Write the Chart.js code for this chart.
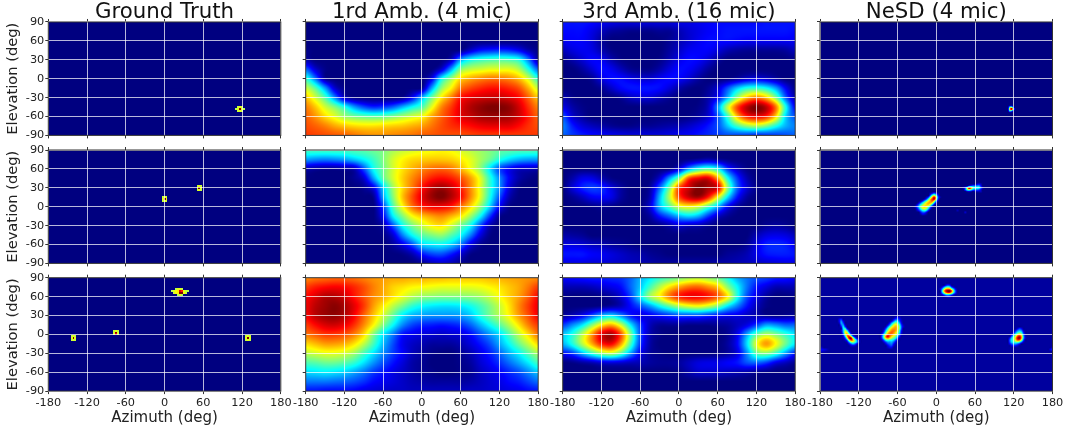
<!DOCTYPE html>
<html>
<head>
<meta charset="utf-8">
<script src="https://cdn.jsdelivr.net/npm/chart.js@4/dist/chart.umd.min.js"></script>
<style>
  html, body { margin: 0; padding: 0; background: #fff; overflow: hidden; }
  #page { position: relative; width: 1067px; height: 430px; overflow: hidden; }
  #page div { position: absolute; }
</style>
</head>
<body>
<div id="page"></div>
<script>
// axis ticks
var azimuthTicks = [-180, -120, -60, 0, 60, 120, 180];
var elevationTicks = [-90, -60, -30, 0, 30, 60, 90];
var columnTitles = ['Ground Truth', '1rd Amb. (4 mic)', '3rd Amb. (16 mic)', 'NeSD (4 mic)'];

// wide maps: one row per elevation 90, 75 ... -90, one value per azimuth -180, -165 ... 180
var amb1Row1 = [
  [0,0,0,0,0,0,0,0,0,0,0,0,0,0,0,0,0,0,0,0,0,0,0,0,0],
  [0,0,0,0,0,0,0,0,0,0,0,0,0,0,0,0,0,0,0,0,0,0,0,0,0],
  [0,0,0,0,0,0,0,0,0,0,0,0,0,0,0,0,0,0,0,0,0,0,0,0,0],
  [1,0,0,0,0,0,0,0,0,0,0,0,0,0,0,0,1,8,14,16,17,16,12,5,1],
  [4,0,0,0,0,0,0,0,0,0,0,0,0,0,0,6,28,38,42,44,45,44,40,24,4],
  [22,8,1,0,0,0,0,0,0,0,0,0,0,0,8,28,50,56,58,60,60,60,55,40,22],
  [42,24,3,0,0,0,0,0,0,0,0,0,0,10,37,52,66,71,74,76,76,74,69,58,42],
  [57,46,28,8,1,0,0,0,0,0,0,0,2,28,51,63,76,81,84,86,86,84,80,70,57],
  [68,58,45,26,7,1,0,0,0,0,2,12,30,48,64,75,86,90,92,93,93,91,87,78,68],
  [75,68,58,50,40,28,20,16,18,22,30,38,45,60,74,82,90,95,98,100,100,98,92,83,75],
  [78,73,66,60,53,49,47,46,47,50,54,58,62,71,78,84,90,93,96,97,97,96,92,85,78],
  [80,78,75,71,68,66,65,65,66,67,68,70,72,76,80,83,85,87,89,90,90,90,87,83,80],
  [82,81,80,79,78,76,74,73,73,74,75,76,78,79,80,80,80,81,82,82,82,82,82,82,82]
];
var amb1Row2 = [
  [44,44,44,44,44,45,46,48,50,54,57,59,61,62,63,62,59,56,53,50,47,46,45,45,44],
  [28,26,25,26,28,32,37,43,50,58,63,66,67,68,68,67,64,60,54,48,40,34,30,28,28],
  [5,3,2,2,3,5,20,38,48,58,65,70,74,77,78,76,70,62,52,36,20,12,7,6,5],
  [0,0,0,0,0,2,8,28,46,58,67,74,80,85,87,85,80,72,60,42,26,12,4,1,0],
  [0,0,0,0,0,0,2,10,33,53,66,76,86,94,97,93,85,74,60,42,26,9,1,0,0],
  [0,0,0,0,0,0,0,2,28,50,68,80,90,97,100,95,87,74,60,40,20,5,0,0,0],
  [0,0,0,0,0,0,0,0,18,44,62,76,84,88,88,85,76,66,52,33,12,1,0,0,0],
  [0,0,0,0,0,0,0,0,12,36,50,62,68,72,74,70,64,53,38,18,2,0,0,0,0],
  [0,0,0,0,0,0,0,0,4,20,38,49,57,63,65,58,48,38,20,5,0,0,0,0,0],
  [0,0,0,0,0,0,0,0,1,8,25,38,46,50,52,46,38,25,10,1,0,0,0,0,0],
  [0,0,0,0,0,0,0,0,0,3,10,20,33,36,37,33,24,10,2,0,0,0,0,0,0],
  [0,0,0,0,0,0,0,0,0,0,1,5,14,19,20,15,8,1,0,0,0,0,0,0,0],
  [0,0,0,0,0,0,0,0,0,0,0,0,2,6,8,6,2,0,0,0,0,0,0,0,0]
];
var amb1Row3 = [
  [74,76,77,78,78,77,75,73,72,71,71,70,70,69,69,68,68,68,68,69,70,71,72,73,74],
  [82,85,87,88,87,84,80,75,71,67,65,63,62,61,60,60,60,60,61,63,65,68,71,76,82],
  [87,91,95,95,92,86,80,74,70,65,60,55,52,51,50,50,50,51,53,57,62,67,72,79,87],
  [89,94,97,99,96,90,82,72,64,56,49,42,38,36,35,35,36,39,44,50,57,65,74,82,89],
  [88,94,97,98,95,88,78,68,58,47,36,30,28,27,27,27,28,32,40,48,55,63,72,80,88],
  [82,87,91,92,89,83,74,63,50,38,26,19,16,15,14,15,17,22,30,38,46,55,65,75,82],
  [76,79,82,82,80,75,66,50,36,25,14,11,9,8,7,8,9,13,20,27,34,45,56,66,76],
  [66,69,72,72,70,65,56,44,31,20,11,7,5,3,3,3,5,9,14,20,29,38,48,57,66],
  [56,58,60,60,58,53,44,35,26,18,12,6,3,1,0,0,2,5,10,15,22,30,37,46,54],
  [45,46,48,48,46,42,35,27,20,14,9,4,2,0,0,0,1,3,8,12,17,23,29,36,44],
  [34,35,36,35,33,29,24,18,14,10,7,4,2,1,0,0,1,2,6,9,12,16,20,26,32],
  [24,24,24,23,22,20,17,13,11,9,7,5,4,3,3,3,3,4,6,8,10,13,15,19,23],
  [14,14,13,13,13,12,10,9,8,7,7,6,6,6,6,6,6,7,7,8,9,10,11,13,14]
];
var amb3Row1 = [
  [14,14,14,13,11,10,9,9,9,9,9,9,10,10,11,12,13,13,13,13,13,14,14,14,14],
  [13,13,13,10,6,3,2,1,1,1,2,2,5,8,10,12,13,14,14,14,14,14,14,14,13],
  [11,12,12,9,3,0,0,0,0,0,0,2,5,8,11,13,13,13,12,11,11,11,11,11,11],
  [6,9,11,10,5,1,0,0,0,0,0,3,7,11,12,12,9,5,3,2,2,2,2,3,6],
  [1,4,8,12,11,5,1,0,0,0,1,5,10,13,12,8,3,0,0,0,0,0,0,0,1],
  [0,0,3,8,13,11,6,2,1,1,4,9,13,12,8,3,0,0,0,0,0,0,0,0,0],
  [0,0,0,2,9,13,13,10,8,8,11,13,12,8,3,0,0,1,4,8,10,8,4,0,0],
  [0,0,0,0,2,7,12,14,14,14,13,9,4,1,0,2,8,20,32,40,42,38,28,12,1],
  [5,1,0,0,0,0,2,6,8,8,5,2,0,0,0,4,12,30,52,68,75,68,50,22,5],
  [10,4,1,0,0,0,0,0,0,0,0,0,0,0,1,6,26,56,80,94,100,94,76,40,12],
  [20,8,3,0,0,0,0,0,0,0,0,0,0,1,3,8,20,42,68,84,88,84,66,34,20],
  [25,15,9,6,4,2,1,1,2,2,3,4,5,7,10,14,20,32,44,52,55,50,40,30,25],
  [22,18,15,13,12,11,10,9,9,9,9,10,11,12,14,16,18,20,19,18,16,17,18,20,22]
];
var amb3Row2 = [
  [0,0,0,0,0,0,0,0,0,0,0,0,0,0,0,0,0,0,0,0,0,0,0,0,0],
  [0,0,0,0,0,0,0,0,0,0,0,0,0,1,3,5,3,1,0,0,0,0,0,0,0],
  [0,0,0,0,0,0,0,0,0,0,0,1,10,28,40,45,38,18,7,1,0,0,0,0,0],
  [0,4,10,10,5,1,0,0,0,0,8,28,50,80,88,90,72,40,18,5,0,0,0,0,0],
  [0,8,15,18,16,9,3,0,0,3,22,48,80,92,100,96,90,52,22,8,1,0,0,0,0],
  [0,2,6,11,12,10,3,0,0,5,30,55,80,92,96,85,62,35,14,3,0,0,0,0,0],
  [0,0,0,1,2,1,0,0,0,8,30,44,58,62,58,45,30,12,3,0,0,0,0,0,0],
  [0,0,0,0,0,0,0,0,0,3,14,22,30,34,30,18,7,2,0,0,0,0,0,0,0],
  [0,0,0,0,0,0,0,0,0,0,1,4,8,6,5,2,0,0,0,0,0,2,3,2,0],
  [4,3,2,0,0,0,0,0,0,0,0,0,0,0,0,0,0,0,0,0,5,9,10,9,6],
  [9,9,8,6,5,3,2,1,0,0,0,0,0,0,0,0,0,0,0,2,9,15,16,15,11],
  [14,14,14,12,11,9,7,5,4,2,1,0,0,0,0,0,0,2,3,5,10,14,15,15,14],
  [10,10,10,9,9,8,7,6,5,4,3,3,3,3,3,3,4,4,5,6,7,8,9,10,10]
];
var amb3Row3 = [
  [12,13,14,15,15,16,17,22,30,36,42,46,50,54,56,53,48,40,30,24,20,18,15,14,12],
  [5,5,5,6,8,10,13,22,32,44,55,65,72,77,78,74,68,52,38,24,14,9,5,5,5],
  [1,0,0,0,1,3,8,18,35,52,62,75,84,88,88,85,78,64,40,20,10,3,0,0,1],
  [0,0,0,0,1,3,6,13,20,28,38,47,55,60,62,58,50,36,25,14,6,1,0,0,0],
  [3,6,11,20,30,34,26,15,10,11,14,17,20,20,20,17,14,11,10,7,5,2,1,2,3],
  [18,26,35,50,64,70,58,36,18,6,2,2,2,1,1,1,2,3,6,10,18,28,26,22,22],
  [32,40,55,72,90,96,80,50,20,5,1,0,0,0,0,0,0,2,10,28,46,55,50,42,35],
  [30,40,55,70,84,88,72,45,18,4,0,0,0,0,0,0,0,3,12,34,60,72,62,48,36],
  [13,18,30,42,52,56,46,28,11,3,1,0,0,0,0,0,1,3,9,26,46,50,42,28,15],
  [0,1,3,5,8,9,8,6,5,3,2,2,3,6,9,10,10,12,14,20,22,18,10,6,2],
  [0,0,0,0,0,0,0,0,0,0,0,0,1,4,7,7,7,6,5,4,2,1,0,0,0],
  [0,0,0,0,0,0,0,0,0,0,0,0,0,0,0,0,0,0,0,0,0,0,0,0,0],
  [0,0,0,0,0,0,0,0,0,0,0,0,0,0,0,0,0,0,0,0,0,0,0,0,0]
];

// narrow spots: [elevation, first azimuth, values every 3 deg], everything else is 0
var truthRow1 = [
  [-45,114,[57,60,57]],
  [-48,111,[55,60,100,60,55]],
  [-51,114,[57,60,57]]
];
var truthRow2 = [
  [15,-3,[57,60,57]], [12,-3,[60,100,60]], [9,-3,[57,60,57]],
  [33,51,[57,60,57]], [30,51,[60,100,60]], [27,51,[57,60,57]]
];
var truthRow3 = [
  [-3,-144,[57,60,57]], [-6,-144,[60,100,60]], [-9,-144,[57,60,57]],
  [6,-78,[57,60,57]], [3,-78,[60,100,60]], [0,-78,[57,90,57]],
  [72,18,[55,60,60,57]], [69,12,[55,60,62,64,90,85,60,57,55]], [66,15,[57,62,64,100,100,62,57]], [63,21,[55,60,55]],
  [-3,126,[57,60,57]], [-6,126,[60,100,60]], [-9,126,[57,60,57]]
];
var nesdRow1 = [
  [-45,114,[35,40]],
  [-48,114,[70,100,30]],
  [-51,114,[40,30]]
];
var nesdRow2 = [
  [21,-9,[6,14,24,14,4]],
  [18,-9,[20,45,55,38,12]],
  [15,-15,[6,18,45,72,88,60,20,5]],
  [12,-18,[6,20,42,68,84,92,55,15]],
  [9,-24,[5,14,30,46,62,72,78,60,25,6]],
  [6,-27,[8,22,38,52,64,70,70,60,30,8]],
  [3,-30,[8,22,40,52,62,66,66,54,30,8]],
  [0,-33,[5,16,32,50,62,66,62,48,26,8]],
  [-3,-30,[10,24,42,56,60,52,32,12]],
  [-6,-30,[5,14,26,38,42,32,14]],
  [-9,-24,[12,20,20,10]],
  [-12,-24,[4,10,8,3]],
  [36,63,[6,10,6]],
  [33,51,[14,20,24,24,26,28,14]],
  [30,42,[5,20,55,95,80,48,40,42,40,25,8]],
  [27,45,[20,45,55,42,28,24,24,20,10]],
  [24,48,[6,8,6,0,5,6,6,6]],
  [-9,45,[7]],
  [-6,33,[5]]
];
var nesdRow3 = [
  [24,-150,[10,15]], [21,-150,[12,25,10]], [18,-150,[8,28,18]], [15,-147,[22,28,8]], [12,-147,[12,35,18]],
  [9,-144,[35,40,12]], [6,-147,[10,30,55,38,12]], [3,-147,[6,28,60,60,28,6]], [0,-147,[4,18,52,72,55,20,5]],
  [-3,-144,[10,35,72,84,60,22,6]], [-6,-144,[5,18,50,90,98,60,28,8]], [-9,-141,[8,22,58,82,72,50,28,10]],
  [-12,-138,[8,28,50,55,45,30,12]], [-15,-135,[10,22,30,24,12]], [-18,-132,[8,10,8]],
  [27,-63,[8,12,8]], [24,-66,[10,18,22,14,6]], [21,-69,[10,22,35,35,20,8]], [18,-72,[12,28,42,52,48,30,12]],
  [15,-75,[10,25,42,58,64,60,42,18,6]], [12,-78,[8,25,42,58,66,70,64,48,22,8]], [9,-81,[6,20,40,58,68,72,72,65,48,20]],
  [6,-81,[12,32,52,66,74,76,72,62,40,15]], [3,-84,[6,20,44,64,74,78,74,66,56,36,12]], [0,-84,[15,35,58,74,78,75,68,60,48,28,8]],
  [-3,-84,[22,48,76,90,78,66,58,50,35,15]], [-6,-84,[18,42,66,74,66,55,48,38,22,6]], [-9,-84,[8,22,40,46,42,40,34,22,10]],
  [-12,-81,[10,20,28,28,30,22,12]], [-15,-78,[10,18,22,24,14,6]], [-18,-75,[10,16,18,8]], [-21,-75,[6,10,10]],
  [78,15,[12,18,14]], [75,9,[10,25,40,45,40,18,8]], [72,6,[8,25,50,70,75,72,50,28,10]],
  [69,9,[35,68,90,100,100,80,45,18]], [66,9,[25,50,72,82,80,60,35,15]], [63,9,[8,20,32,35,30,22,10]], [60,15,[8,12,10]],
  [9,126,[10,18,12]], [6,123,[12,25,30,25,8]], [3,120,[10,25,38,45,38,15]], [0,117,[10,25,42,60,66,55,25,6]],
  [-3,117,[22,42,60,82,90,70,32,8]], [-6,114,[15,35,48,70,92,98,72,32,8]], [-9,114,[22,38,48,65,80,78,55,20]],
  [-12,114,[20,35,42,48,50,42,25,8]], [-15,114,[12,22,28,28,22,14]], [-18,117,[10,14,12,8]],
  [-21,-180,[8,6]], [-24,-180,[15,12,10,8,5]], [-27,-180,[10,8,6,4]], [-24,177,[10,15]], [-21,180,[8]]
];

// plot rectangles
var plotLefts = [48.3, 305.7, 562.7, 820];
var plotTops = [22, 150, 277.7];
var plotWidth = 232.5;
var plotHeight = 113.4;

function wideToPoints(rows) {
  var pts = [];
  rows.forEach(function(row, r) {
    row.forEach(function(v, c) {
      pts.push({x: -180 + c * 15, y: 90 - r * 15, v: v});
    });
  });
  return pts;
}

function spotsToPoints(rows) {
  var pts = [];
  rows.forEach(function(row) {
    row[2].forEach(function(v, c) {
      pts.push({x: row[1] + c * 3, y: row[0], v: v});
    });
  });
  return pts;
}

function jet(v) {
  function clip(a) { return Math.max(0, Math.min(1, a)) * 255; }
  return [
    clip(Math.min(4 * v - 1.5, -4 * v + 4.5)),
    clip(Math.min(4 * v - 0.5, -4 * v + 3.5)),
    clip(Math.min(4 * v + 0.5, -4 * v + 2.5))
  ];
}

function catmull(a, b, c, d, t) {
  return b + 0.5 * t * (c - a + t * (2 * a - 5 * b + 4 * c - d + t * (3 * (b - c) + d - a)));
}

// paints the dataset as an image, going through the chart scales for every pixel
var heatPlugin = {
  id: 'heat',
  beforeDatasetsDraw: function(chart, args, opts) {
    var step = opts.step, base = opts.base || 0;
    var cols = 360 / step + 1, rows = 180 / step + 1;
    var grid = new Float32Array(cols * rows);
    grid.fill(base);
    chart.data.datasets[0].data.forEach(function(p) {
      var c = Math.round((p.x + 180) / step), r = Math.round((90 - p.y) / step);
      grid[r * cols + c] = Math.max(p.v, base);
    });
    function at(r, c) {
      r = Math.max(0, Math.min(rows - 1, r));
      c = Math.max(0, Math.min(cols - 1, c));
      return grid[r * cols + c];
    }
    function sample(az, el) {
      var fc = (az + 180) / step, fr = (90 - el) / step;
      if (opts.blocky) return at(Math.round(fr), Math.round(fc));
      var c = Math.floor(fc), r = Math.floor(fr), tc = fc - c, tr = fr - r;
      var vals = [];
      for (var i = -1; i <= 2; i++) {
        vals.push(catmull(at(r + i, c - 1), at(r + i, c), at(r + i, c + 1), at(r + i, c + 2), tc));
      }
      return catmull(vals[0], vals[1], vals[2], vals[3], tr);
    }
    var area = chart.chartArea;
    var x0 = Math.floor(area.left), y0 = Math.floor(area.top);
    var w = Math.ceil(area.right) - x0, h = Math.ceil(area.bottom) - y0;
    var off = document.createElement('canvas');
    off.width = w; off.height = h;
    var octx = off.getContext('2d');
    var img = octx.createImageData(w, h);
    var xs = chart.scales.x, ys = chart.scales.y;
    for (var py = 0; py < h; py++) {
      var el = Math.max(-90, Math.min(90, ys.getValueForPixel(y0 + py + 0.5)));
      for (var px = 0; px < w; px++) {
        var az = Math.max(-180, Math.min(180, xs.getValueForPixel(x0 + px + 0.5)));
        var col = jet(Math.max(0, Math.min(100, sample(az, el))) / 100);
        var k = (py * w + px) * 4;
        img.data[k] = col[0]; img.data[k + 1] = col[1]; img.data[k + 2] = col[2]; img.data[k + 3] = 255;
      }
    }
    octx.putImageData(img, 0, 0);
    chart.ctx.save();
    chart.ctx.beginPath();
    chart.ctx.rect(area.left, area.top, area.width, area.height);
    chart.ctx.clip();
    chart.ctx.drawImage(off, x0, y0);
    chart.ctx.restore();
  },
  afterDraw: function(chart) {
    var a = chart.chartArea;
    chart.ctx.save();
    chart.ctx.strokeStyle = '#333';
    chart.ctx.lineWidth = 1;
    chart.ctx.strokeRect(a.left, a.top, a.width, a.height);
    chart.ctx.restore();
  }
};

function addPanel(row, col, points, step, base) {
  var canvasW = 300, canvasH = 175;
  var canvasLeft = Math.round(plotLefts[col] - 48);
  var canvasTop = Math.round(plotTops[row] - 22);
  var marginLeft = plotLefts[col] - canvasLeft;
  var marginTop = plotTops[row] - canvasTop;
  var xAxisHeight = row === 2 ? 36 : 6;

  var box = document.createElement('div');
  box.style.left = canvasLeft + 'px';
  box.style.top = canvasTop + 'px';
  box.style.width = canvasW + 'px';
  box.style.height = canvasH + 'px';
  var canvas = document.createElement('canvas');
  canvas.width = canvasW;
  canvas.height = canvasH;
  box.appendChild(canvas);
  document.getElementById('page').appendChild(box);

  new Chart(canvas, {
    type: 'scatter',
    data: { datasets: [{ data: points, pointRadius: 0, pointHoverRadius: 0 }] },
    plugins: [heatPlugin],
    options: {
      responsive: false,
      animation: false,
      events: [],
      devicePixelRatio: 1,
      layout: { padding: {
        left: 0, top: 0,
        right: canvasW - marginLeft - plotWidth,
        bottom: canvasH - marginTop - plotHeight - xAxisHeight
      } },
      plugins: {
        legend: { display: false },
        tooltip: { enabled: false },
        heat: { step: step, base: base, blocky: col === 0 },
        title: {
          display: row === 0,
          fullSize: false,
          text: columnTitles[col],
          color: '#111',
          font: { family: 'DejaVu Sans', size: 21.3, weight: 'normal', lineHeight: 0.9 },
          padding: { top: 2.7, bottom: 0 }
        }
      },
      scales: {
        x: {
          type: 'linear', position: 'bottom', min: -180, max: 180,
          afterBuildTicks: function(s) { s.ticks = azimuthTicks.map(function(v) { return {value: v}; }); },
          afterFit: function(s) { s.height = xAxisHeight; },
          border: { display: false },
          grid: { z: 1, color: 'rgba(255,255,255,0.72)', lineWidth: 1, tickColor: '#333', tickLength: 3 },
          ticks: { display: row === 2, autoSkip: false, maxRotation: 0, padding: 2.5, color: '#222',
                   font: { family: 'DejaVu Sans', size: 11.3 } },
          title: { display: row === 2, text: 'Azimuth (deg)', color: '#222', padding: 0,
                   font: { family: 'DejaVu Sans', size: 15 } }
        },
        xTop: {
          type: 'linear', position: 'top', axis: 'x', min: -180, max: 180, display: true,
          afterBuildTicks: function(s) { s.ticks = azimuthTicks.map(function(v) { return {value: v}; }); },
          afterFit: function(s) { s.height = row === 0 ? Math.max(0, marginTop - 21.9) : marginTop; },
          border: { display: false },
          grid: { drawOnChartArea: false, tickColor: '#333', tickLength: 3 },
          ticks: { display: false }
        },
        y: {
          type: 'linear', position: 'left', min: -90, max: 90,
          afterBuildTicks: function(s) { s.ticks = elevationTicks.map(function(v) { return {value: v}; }); },
          afterFit: function(s) { s.width = marginLeft; },
          border: { display: false },
          grid: { z: 1, color: 'rgba(255,255,255,0.72)', lineWidth: 1, tickColor: '#333', tickLength: 3 },
          ticks: { display: col === 0, autoSkip: false, padding: 1, color: '#222',
                   font: { family: 'DejaVu Sans', size: 11.3 } },
          title: { display: col === 0, text: 'Elevation (deg)', color: '#222', padding: { top: 4, bottom: 0 },
                   font: { family: 'DejaVu Sans', size: 14.7 } }
        }
      }
    }
  });
}

addPanel(0, 0, spotsToPoints(truthRow1), 3, 0);
addPanel(1, 0, spotsToPoints(truthRow2), 3, 0);
addPanel(2, 0, spotsToPoints(truthRow3), 3, 0);
addPanel(0, 1, wideToPoints(amb1Row1), 15, 0);
addPanel(1, 1, wideToPoints(amb1Row2), 15, 0);
addPanel(2, 1, wideToPoints(amb1Row3), 15, 0);
addPanel(0, 2, wideToPoints(amb3Row1), 15, 0);
addPanel(1, 2, wideToPoints(amb3Row2), 15, 0);
addPanel(2, 2, wideToPoints(amb3Row3), 15, 0);
addPanel(0, 3, spotsToPoints(nesdRow1), 3, 0);
addPanel(1, 3, spotsToPoints(nesdRow2), 3, 0);
addPanel(2, 3, spotsToPoints(nesdRow3), 3, 3);
</script>
</body>
</html>
